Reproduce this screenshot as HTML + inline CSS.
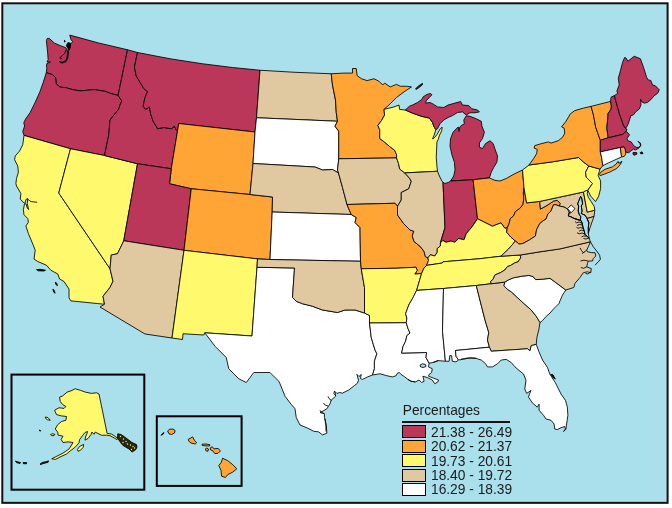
<!DOCTYPE html>
<html><head><meta charset="utf-8"><title>Percentages by state</title>
<style>
html,body{margin:0;padding:0;background:#fff;}
body{width:672px;height:508px;overflow:hidden;position:relative;font-family:"Liberation Sans",sans-serif;}
svg{position:absolute;left:0;top:0;display:block;}
.st path{stroke:#000;stroke-width:0.85;stroke-linejoin:round;}
.lg{position:absolute;color:#1a1a1a;font-size:13.75px;line-height:14.5px;white-space:nowrap;}
</style></head><body>
<svg width="672" height="508" viewBox="0 0 672 508">
<rect x="2.3" y="3.3" width="665.3" height="499.55" fill="#A9E0EC" stroke="#1a1012" stroke-width="2"/>
<g class="st">
<path id="WA" fill="#BB3759" d="M46.25,72.75 46.9,67.75 46.4,67.2 46.8,63.6 50.4,62 47,62 48.1,59.7 47.7,53 46.8,44.7 46.4,40.5 47.25,38.4 49.3,38.4 54.3,43 61,45.9 65.6,47.6 67,49.5 67.5,52.5 67,57 65.8,60.5 62,62.3 59,61.3 62,63.2 66.3,61.7 68,57 68.5,52 69,49 70.2,46.3 70.6,43.8 72.7,41.75 71,39.7 69.75,35.1 98.75,43 127.5,49.75 118.1,95.4 110,93.25 105,91.25 94,89.6 87.5,90.25 80,90.9 72.5,89.6 66.25,87.75 60,87.1 56.25,84 55.6,77.75 52.5,74.6 46.25,72.75Z"/>
<path id="OR" fill="#BB3759" d="M46.25,72.75 52.5,74.6 55.6,77.75 56.25,84 60,87.1 66.25,87.75 72.5,89.6 80,90.9 87.5,90.25 94,89.6 105,91.25 110,93.25 118.1,95.4 121.9,101 120,105 118.75,109 110,120 108.75,135 104.5,155.5 70.5,148.75 24,135.4 22.75,131.6 24.6,126 23.75,122.75 25.6,119 30,112.75 35,102.75 40,91.5 43.1,82.75 46.25,72.75Z"/>
<path id="CA" fill="#FFF96E" d="M24,135.4 70.5,148.75 58.75,193 110,268.75 113,281.25 110,287.5 103,296.25 104.5,304.25 70.9,300.9 69,297.75 69,289 64,281.5 59.6,279 57.75,274 50.9,270.25 46.5,265.25 37.75,261.5 34,259 35.25,250.25 32.75,244 31.5,241 28.4,233.5 25.9,226 28.4,222.25 27.75,218.5 24,214.75 23.4,209.75 24.6,203.5 20.25,199.1 20.9,193.5 16.5,186 15.9,183.5 16.5,178.5 18.4,172.25 17.75,166 14.6,159.75 15.25,156 19.6,151 22.75,144.75 24,135.4Z"/>
<path id="NV" fill="#FFF96E" d="M70.5,148.75 104.5,155.5 137.5,163.75 123.75,240.75 117.5,253.75 111.25,255 110,268.75 58.75,193 70.5,148.75Z"/>
<path id="ID" fill="#BB3759" d="M127.5,49.75 137.5,52.5 134.4,67.25 136.25,76 140,82.25 143.75,88.5 147.5,91.6 145,97.5 143.1,106.25 145.6,109.4 149.4,106.9 150.6,113.75 153.1,121.25 156.25,126.25 157.5,128.75 163.75,127.5 171.25,128.75 174.4,126.25 176.25,130 177.6,130.5 171.25,168.75 137.5,163.75 104.5,155.5 108.75,135 110,120 118.75,109 120,105 121.9,101 118.1,95.4 127.5,49.75Z"/>
<path id="MT" fill="#BB3759" d="M137.5,52.5 170,58.75 202.5,63.75 232.5,67.5 260,70.25 256.5,117.75 255,132 178.75,123.5 177.6,130.5 176.25,130 174.4,126.25 171.25,128.75 163.75,127.5 157.5,128.75 156.25,126.25 153.1,121.25 150.6,113.75 149.4,106.9 145.6,109.4 143.1,106.25 145,97.5 147.5,91.6 143.75,88.5 140,82.25 136.25,76 134.4,67.25 137.5,52.5Z"/>
<path id="WY" fill="#FFA535" d="M178.75,123.5 255,132 253,163.5 250,194.5 191.25,188.75 169.5,183.75 171.25,168.75 177.6,130.5 178.75,123.5Z"/>
<path id="UT" fill="#BB3759" d="M137.5,163.75 171.25,168.75 169.5,183.75 191.25,188.75 184,250.3 123.75,240.75 137.5,163.75Z"/>
<path id="AZ" fill="#E0C8A0" d="M123.75,240.75 184,250.3 172,338 145,334 100,307 104.5,304.25 103,296.25 110,287.5 113,281.25 110,268.75 111.25,255 117.5,253.75 123.75,240.75Z"/>
<path id="CO" fill="#FFA535" d="M191.25,188.75 250,194.5 272.5,197 272.2,212 270,259.5 257.5,258.9 184,250.3 191.25,188.75Z"/>
<path id="NM" fill="#FFF96E" d="M184,250.3 257.5,258.9 257,267.3 252,336 204.8,332.8 203.75,335 183,333.75 182.5,339.5 172,338 184,250.3Z"/>
<path id="TX" fill="#FFFFFF" d="M257,267.3 294.5,268 292.5,297.5 296.25,301.25 302.5,303.75 312.5,306.25 322.5,310 330,311.25 337.5,312.5 345,310 355,310 364.5,313 369.5,315.5 369.5,323 371.25,337.5 375,350 376.9,353.75 374.4,361.25 374.4,368.75 372.5,375 367.5,376.9 362.5,379.4 360.5,378.5 361.25,374.4 359,376.5 356.9,374.4 358.5,380 357.5,383.1 354.4,385.6 348.75,390 342.5,393.1 339.4,392.5 337,393.5 335,391.5 335.6,396.25 331.25,400 330,403.75 326.9,408.75 323,411 320,412.5 324.4,413.75 324.4,417.5 326.25,425 326.9,433.1 322.5,435 318.75,431.9 313.75,431.25 307.5,428.1 300,425 296.25,417.5 295,408.75 291.25,404.4 285,396.25 280,383.75 278.75,381.25 270,372.5 253.75,372.5 246.25,382.5 238.75,378.75 228.75,368.75 226.25,357.5 215,346.25 204.8,332.8 252,336 257,267.3Z"/>
<path id="ND" fill="#E0C8A0" d="M260,70.25 295,72.3 331.25,73.75 332.5,85 335.5,100 336.25,112.5 337.5,121.25 256.5,117.75 260,70.25Z"/>
<path id="SD" fill="#FFFFFF" d="M256.5,117.75 337.5,121.25 335,126.25 338.75,131.25 338.75,158.75 337.5,170 338.5,173 332.5,169.5 322.5,170 315,167 253,163.5 255,132 256.5,117.75Z"/>
<path id="NE" fill="#E0C8A0" d="M253,163.5 315,167 322.5,170 332.5,169.5 338.5,173 342.5,187.5 347,204.5 348.75,208.75 351.25,214.5 272.2,212 272.5,197 250,194.5 253,163.5Z"/>
<path id="KS" fill="#FFFFFF" d="M272.2,212 351.25,214.5 356.25,217.5 355,222.5 360,227.5 360.5,261.25 270,259.5 272.2,212Z"/>
<path id="OK" fill="#E0C8A0" d="M257.5,258.9 270,259.5 360.5,261.25 361.25,268.75 364.5,287.5 364.5,313 355,310 345,310 337.5,312.5 330,311.25 322.5,310 312.5,306.25 302.5,303.75 296.25,301.25 292.5,297.5 294.5,268 257,267.3 257.5,258.9Z"/>
<path id="MN" fill="#FFA535" d="M331.25,73.75 344,73.1 352.5,73.1 352.5,68.5 356.25,68.5 357.1,75.6 361.5,78.75 367.1,80.6 374,78.75 379,81.25 382.75,85 384.6,83.1 390.25,86.9 396.5,84.4 400.25,86.25 406.5,86.25 411.5,86.9 404,91.9 396.5,97.5 390.25,103.75 384,109.4 384.6,115 381.6,120.4 377.9,125.4 379.75,129.75 379.75,138.5 384.75,142.25 389.75,146.6 394.75,150.4 396.6,154.75 396.6,157.9 338.75,158.75 338.75,131.25 335,126.25 337.5,121.25 336.25,112.5 335.5,100 332.5,85 331.25,73.75Z"/>
<path id="IA" fill="#E0C8A0" d="M338.75,158.75 396.6,157.9 398.5,163.5 399.75,169.1 404.75,172.9 409.75,178.5 411.25,181.25 408.75,188.75 401.25,192.5 401.25,200 397.5,206.25 395,203.25 347,204.5 342.5,187.5 338.5,173 337.5,170 338.75,158.75Z"/>
<path id="MO" fill="#FFA535" d="M347,204.5 395,203.25 397.5,206.25 397.5,215 403.75,223.75 410,230 413.75,231.25 412.25,236 414.1,241.6 420.4,246.6 424.1,251.6 425.4,256.6 427.9,257.9 428.5,260.4 426.6,265.4 424.1,267.9 421.6,273.5 414.75,274.1 417.25,270.4 416,267.25 396,268.25 361.25,268.75 360.5,261.25 360,227.5 355,222.5 356.25,217.5 351.25,214.5 348.75,208.75 347,204.5Z"/>
<path id="AR" fill="#FFF96E" d="M361.25,268.75 396,268.25 416,267.25 417.25,270.4 414.75,274.1 421.6,273.5 419.75,279.75 417.9,286 416.6,290.4 413.1,297.5 408.75,305 405.6,313.75 406.9,318.1 406.25,322.75 369.5,323 369.5,315.5 364.5,313 364.5,287.5 361.25,268.75Z"/>
<path id="LA" fill="#FFFFFF" d="M369.5,323 406.25,322.75 408.1,328.75 410,333.1 406.9,335.6 405.6,341.25 403.1,346.25 401.6,353.1 426.6,352.5 426,357.5 429.1,363.1 428.5,366.9 432.25,368.75 431.6,372.5 429.1,374.4 428.5,376.25 433.5,378.1 438.5,380 437.9,381.9 434.75,383.75 432.25,380 427.25,377.5 422.9,376.25 424.1,381.25 421.6,382.5 419.1,380 415.4,381.9 411,381.25 407.9,379.4 404.75,376.9 401,374.4 399.5,372.6 397.3,373.2 396.25,375.6 392.5,376.9 386.25,375.6 380,373.75 372.5,375 374.4,368.75 374.4,361.25 376.9,353.75 375,350 371.25,337.5 369.5,323Z"/>
<path id="WI" fill="#FFF96E" d="M437.5,171.25 436.9,166 436.25,157.25 436.9,142.25 438.3,139.2 439.6,135 441.7,130.8 442.1,127.1 440,129.2 436.7,135 433.3,138.75 432.5,138.75 434.2,135 435.8,129.6 433.75,126.25 432.5,122.5 429.4,118.1 421.25,116.25 412.5,113.1 405.25,110 399.6,109.4 399,105 394,106.9 384,109.4 384.6,115 381.6,120.4 377.9,125.4 379.75,129.75 379.75,138.5 384.75,142.25 389.75,146.6 394.75,150.4 396.6,154.75 396.6,157.9 398.5,163.5 399.75,169.1 404.75,172.9 437.5,171.25Z"/>
<path id="IL" fill="#E0C8A0" d="M404.75,172.9 437.5,171.25 439.4,176 441.9,181 443,182.3 445,227.5 440.4,242.9 440.4,246 437.25,248.5 437.25,252.25 434.75,256 430.4,254.75 427.9,257.9 425.4,256.6 424.1,251.6 420.4,246.6 414.1,241.6 412.25,236 413.75,231.25 410,230 403.75,223.75 397.5,215 397.5,206.25 401.25,200 401.25,192.5 408.75,188.75 411.25,181.25 409.75,178.5 404.75,172.9Z"/>
<path id="MIu" fill="#BB3759" d="M405.25,110 409.4,106.25 412.5,105 417.5,102.5 421.9,99.4 423.1,96.9 426.9,94.4 430.6,93.5 431.9,94.75 429.4,97.5 426.25,100.6 425.6,103.1 430,102.5 433.75,104.4 437.5,106.9 443.75,107.5 448.1,105 455,103.1 460.6,101.5 462.5,105 468.75,105.6 471.9,108.75 477.5,110 479.4,111.9 475,112.75 470,112.75 466.25,115 462.5,111.9 457.5,112.5 452.5,115.6 448.1,117.5 443.75,120 440,123.75 437.5,128.75 435.8,129.6 433.75,126.25 432.5,122.5 429.4,118.1 421.25,116.25 412.5,113.1 405.25,110Z"/>
<path id="MIl" fill="#BB3759" d="M450.6,181 453.75,176 455,169.75 454.4,162.25 451.9,154.75 450,146 450.6,138.5 453.1,132.25 456.25,128.75 458.3,127 459,131.5 459.8,127 461.25,125.6 464.4,123.75 463.75,120 466.25,115.8 470,116.25 476.25,118.75 481.25,121.25 481.9,126 484.4,132.25 482.5,138.5 479.4,142.9 479.4,147.25 482.5,148.5 485.6,143.5 490,140.75 493.1,143.5 495,149.1 497.5,156 496.9,162.25 493.75,167.25 491.25,172.25 489.4,177.9 473.1,179.75 450.6,181Z"/>
<path id="IN" fill="#BB3759" d="M443,182.3 445,183.5 448.75,182.25 450.6,181 473.1,179.75 477.5,218.75 472.5,226.25 466.25,233.75 465.4,236 464.1,239.75 458.5,238.5 454.75,242.25 451,241 446,242.25 442.9,240.4 440.4,242.9 445,227.5 443,182.3Z"/>
<path id="OH" fill="#FFA535" d="M473.1,179.75 489.4,177.9 495,180.4 500,181 506.25,178.5 514,174.1 522.5,170 524,188 523.3,193 523.8,198.5 522.9,204.75 519.75,208.5 515.4,211.6 513.5,216 510.4,218.5 509.1,223.5 507.25,227.9 504.75,228.2 501,222.9 496,224.75 492.5,226.25 485,222.5 477.5,218.75 473.1,179.75Z"/>
<path id="KY" fill="#FFF96E" d="M440.4,242.9 442.9,240.4 446,242.25 451,241 454.75,242.25 458.5,238.5 464.1,239.75 465.4,236 466.25,233.75 472.5,226.25 477.5,218.75 485,222.5 492.5,226.25 496,224.75 501,222.9 504.75,228.2 507.25,227.9 506.6,232.25 511,237.25 515.4,241 512.25,244.75 508.5,249 504,253.3 500.7,256.25 480,258.7 443,261.8 442.3,263 426.6,265.4 428.5,260.4 427.9,257.9 430.4,254.75 434.75,256 437.25,252.25 437.25,248.5 440.4,246 440.4,242.9Z"/>
<path id="TN" fill="#FFF96E" d="M426.6,265.4 442.3,263 443,261.8 480,258.7 500.7,256.25 520.25,255 520.7,257.9 518.2,261.7 514.8,262.9 510.7,265.4 507.3,266.7 504.8,270 500.7,272.5 494.8,275 493.2,279.2 490.7,281.25 491,283.75 476.25,285.5 443.5,288.5 416.6,290.4 417.9,286 419.75,279.75 421.6,273.5 424.1,267.9 426.6,265.4Z"/>
<path id="MS" fill="#FFFFFF" d="M416.6,290.4 443.5,288.5 442.5,331.25 445.4,361.25 438.5,360.6 433.5,362.5 429.1,363.1 426,357.5 426.6,352.5 401.6,353.1 403.1,346.25 405.6,341.25 406.9,335.6 410,333.1 408.1,328.75 406.25,322.75 406.9,318.1 405.6,313.75 408.75,305 413.1,297.5 416.6,290.4Z"/>
<path id="AL" fill="#FFFFFF" d="M443.5,288.5 476.25,285.5 485,320 488.75,332.5 487.5,340 489.4,347.2 455.5,350.5 456,356.25 458.5,360 456,361.9 452.25,361.25 451.6,355.6 449.75,355.6 449.1,361.25 445.4,361.25 442.5,331.25 443.5,288.5Z"/>
<path id="GA" fill="#E0C8A0" d="M476.25,285.5 491,283.75 504.8,282.1 504,285.8 507.3,289.2 511.5,292 520,300 531.25,310 536.25,316.25 540,322.5 538.75,330 536.9,337.5 536.25,344.4 531.25,345.6 530,350.8 527.5,348.75 491.25,351.25 489.4,347.2 487.5,340 488.75,332.5 485,320 476.25,285.5Z"/>
<path id="FL" fill="#FFFFFF" d="M455.5,350.5 489.4,347.2 491.25,351.25 527.5,348.75 530,350.8 531.25,345.6 536.25,344.4 538.75,351.25 542.5,360 547.5,367.5 549.75,374 555.4,382.75 561,394 565.4,400.25 567.25,406.5 567.9,415.25 566.6,424 565.9,429.3 563.5,431.5 565.4,429 564.75,426.5 561,427.75 557.25,429.6 554.75,429 554.1,424 551,420.25 546,419 543.5,415.25 539.1,410.25 539.1,404.2 537.25,407.1 532.25,402.75 528.5,397.1 529.5,394 531,390.5 526.6,393.4 524.75,389 526,380.25 523.5,374 520,371.25 515,366.9 511.25,362.5 506.25,359.4 501.25,360 497.5,363.75 492.5,366.9 487.5,366.9 485.6,363.75 481.25,360 475,358.1 468.75,358.1 462.5,359.4 458.5,360 456,356.25 455.5,350.5Z"/>
<path id="SC" fill="#FFFFFF" d="M504.8,282.1 508.2,280 513.2,277.9 521.5,276.25 529,275.4 533.2,276.7 535.7,279.6 542.5,279.2 550,278.3 565.8,290 562.5,295 560,300.8 559.2,303.3 555.8,306.7 553.3,309.2 550,313.1 546.25,316.25 542.5,320.6 540,322.5 536.25,316.25 531.25,310 520,300 511.5,292 507.3,289.2 504,285.8 504.8,282.1Z"/>
<path id="NC" fill="#E0C8A0" d="M520.25,255 540,251.8 560,248.9 590.4,241.8 588.3,246.8 586.7,250.2 587.5,251.8 591.7,252.7 595,252.7 595.8,256 593.3,258.5 592.5,261 588.3,261 587.5,263.5 586.7,266.8 591.25,268.5 590.8,272.7 587.5,271.8 583.3,272.7 580,277.5 575,283.3 573.75,287.5 565.8,290 550,278.3 542.5,279.2 535.7,279.6 533.2,276.7 529,275.4 521.5,276.25 513.2,277.9 508.2,280 504.8,282.1 491,283.75 490.7,281.25 493.2,279.2 494.8,275 500.7,272.5 504.8,270 507.3,266.7 510.7,265.4 514.8,262.9 518.2,261.7 520.7,257.9 520.25,255Z"/>
<path id="WV" fill="#FFA535" d="M507.25,227.9 509.1,223.5 510.4,218.5 513.5,216 515.4,211.6 519.75,208.5 522.9,204.75 523.8,198.5 523.3,193 524,188 526.6,202.9 539.75,201.4 540.4,209.1 546,206 551,202.9 553.5,201 557.25,200.4 560.4,203.5 559.1,206 556,204.75 553.5,204.75 551,211 547.9,214.1 546,219.1 542.9,221 539.75,223.5 536.6,229.75 535.4,236 529.75,239.75 522.9,243.5 519.1,244.1 515.4,241 511,237.25 506.6,232.25 507.25,227.9Z"/>
<path id="MD" fill="#E0C8A0" d="M539.75,201.4 583.5,192 587.2,212.1 594.8,210.2 594,216.5 587,218.5 581,220 579.2,220.2 574.2,218.5 570.8,216.8 568.3,216 569.2,212.25 567.5,209 564,207 559.1,206 560.4,203.5 557.25,200.4 553.5,201 551,202.9 546,206 540.4,209.1 539.75,201.4Z"/>
<path id="DE" fill="#FFF96E" d="M583.5,192 585.3,190.9 587.9,190.2 587.2,193.9 588.5,197.6 591,201.4 594.2,206.4 594.8,210.2 587.2,212.1 583.5,192Z"/>
<path id="PA" fill="#FFF96E" d="M522.5,170 529,165 552.25,161.9 578.5,157.5 583.75,162.25 588.75,166 585.6,172.25 586.25,177.25 592.5,183.5 587.9,190.2 585.3,190.9 583.5,192 539.75,201.4 526.6,202.9 524,188 522.5,170Z"/>
<path id="NJ" fill="#FFF96E" d="M588.75,166 600,169.1 598.1,175.4 600.6,181 600.6,188.5 598.75,196 595.6,201.6 590.6,196 587.9,190.2 592.5,183.5 586.25,177.25 585.6,172.25 588.75,166Z"/>
<path id="NY" fill="#FFA535" d="M529,165 533.5,158.75 536.6,153.75 537.25,149.4 534.1,148.1 534.75,145.6 541,143.75 548.5,141.9 551,143.1 558.5,140.6 562.9,136.9 564.75,133.1 564.1,128.1 561.6,126.9 566,121.25 570.4,113.75 574.75,110.6 583.5,108.1 591,106.4 593.1,113.5 594.3,119.3 595.6,126.8 600.3,140.25 600.3,151.9 601.6,157.3 602.8,165.7 600,169.1 588.75,166 583.75,162.25 578.5,157.5 552.25,161.9 529,165Z"/>
<path id="VT" fill="#FFA535" d="M591,106.4 610.6,101.4 611.4,106 611,109.3 608.1,113.5 607.7,119.3 606.8,128 608.2,137.75 600.3,140.25 595.6,126.8 594.3,119.3 593.1,113.5 591,106.4Z"/>
<path id="NH" fill="#BB3759" d="M610.6,101.4 611,97.25 614.3,95.6 619.3,113.5 623.5,125.2 625.5,128.5 627,129 626.2,131.1 622.8,134.4 608.2,137.75 606.8,128 607.7,119.3 608.1,113.5 611,109.3 611.4,106 610.6,101.4Z"/>
<path id="ME" fill="#BB3759" d="M614.3,95.6 617.7,93.5 616.9,91 619.2,85 618.3,78.3 620.4,70.8 622.5,62.5 624.6,57.5 626,58 627.9,61.25 634.2,56.25 640.4,58.75 643.3,66.7 646.7,77.5 648.3,80 650.8,80.4 652.5,85 655.4,85.8 659.3,89.8 657.7,93.2 654.3,95.7 651,99.4 647.7,102.3 644.3,103.2 641.8,101.9 640.6,99.4 641,104.8 639.3,109 636,111.5 633.5,114.8 631,115.7 629.75,119 628.5,123.2 627.25,126 625.5,128.5 623.5,125.2 619.3,113.5 614.3,95.6Z"/>
<path id="MA" fill="#BB3759" d="M600.3,140.25 608.2,137.75 622.8,134.4 626.2,131.1 629.5,134.8 627,138.6 627.8,140.7 631.2,141.9 633.7,145.7 636.2,147.3 638.7,147.4 641,145.6 640.2,142.9 637.8,141.5 639.8,142.6 640.4,145.5 638.6,148.4 636,149.5 635.3,150.25 633.7,149 631.2,150.7 628.7,152.75 626.2,152.3 625.3,149.8 624.1,146.9 620.3,147.5 600.3,151.9 600.3,140.25Z"/>
<path id="CT" fill="#FFFFFF" d="M600.3,151.9 620.3,147.5 621.6,156.9 617,159 608.7,162.75 602.8,165.7 601.6,157.3 600.3,151.9Z"/>
<path id="RI" fill="#FFA535" d="M620.3,147.5 624.1,146.9 625.3,149.8 625.75,154 624.1,156.5 621.6,156.9 620.3,147.5Z"/>
<path id="VA" fill="#E0C8A0" d="M515.4,241 519.1,244.1 522.9,243.5 529.75,239.75 535.4,236 536.6,229.75 539.75,223.5 542.9,221 546,219.1 547.9,214.1 551,211 553.5,204.75 556,204.75 559.1,206 564,207 567.5,209 569.2,212.25 568.3,216 570.8,216.8 574.2,218.5 579.2,220.2 581,220 582.1,222.7 582.9,226.8 584.2,231 585,234.3 587.5,236.8 589.2,238.1 590.4,241.8 560,248.9 540,251.8 520.25,255 500.7,256.25 504,253.3 508.5,249 512.25,244.75 515.4,241Z"/>
<path id="VAe" fill="#E0C8A0" d="M587,218.5 594,216.5 592.1,221.8 590,227.7 588.3,233.5 588.3,227.7 588.75,222.7 587,218.5Z"/>
<rect x="11.5" y="374.6" width="132.8" height="115.1" fill="none" stroke="#000" stroke-width="2"/>
<rect x="156.8" y="416.3" width="84.8" height="69.6" fill="none" stroke="#000" stroke-width="2"/>
<path fill="#FFF96E" d="M59.6,397.1 62.75,395.9 67.1,392.1 70.9,390.9 75.25,388.75 80.25,390.25 85.25,392.1 91.5,393.4 96.5,392.75 99,394 107.1,433.4 111.5,434 115.25,436.5 117.75,438.4 117,439.6 113,437.2 110,435.7 106.5,435.2 101.5,435.25 97.75,433.4 95.25,432.1 94,434.3 92,432 91,434.5 88,438.5 85,440.2 85.5,437 87,433.5 87.5,431.5 85,432.5 82.75,435.25 79.6,439.6 79,442.75 75.25,447.1 70.25,450.9 66.5,454 60,457 55.5,459.4 51.75,458.75 58,455.6 63,453.1 69.25,448.75 73,442.5 68,441.9 63,442.5 61.1,439.4 63,436.25 58,435 57.75,432.1 55.25,429 57.75,424.6 61.5,421.5 65.9,420.25 66.5,416.5 61.5,415.9 56.5,414.6 54.6,410.25 59,407.75 64,408.4 65.9,406.5 62.75,404.6 60.25,401.5Z"/>
<path fill="#2a260c" stroke-width="1.2" d="M117.75,433.8 121,434.5 124,436.5 128,439.5 132,442.5 136.5,444.6 137,447 135.9,449.5 132.1,452.1 129,449 125.5,447 122.75,445.25 120.5,442.5 119,440.25 117.5,438.4Z"/>
<circle cx="120.5" cy="436.5" r="0.7" fill="#FFF96E" stroke="none"/>
<circle cx="123.5" cy="439" r="0.7" fill="#FFF96E" stroke="none"/>
<circle cx="126" cy="441.5" r="0.7" fill="#FFF96E" stroke="none"/>
<circle cx="127.5" cy="444" r="0.7" fill="#FFF96E" stroke="none"/>
<circle cx="130.5" cy="445" r="0.7" fill="#FFF96E" stroke="none"/>
<circle cx="133" cy="446.5" r="0.7" fill="#FFF96E" stroke="none"/>
<circle cx="134.5" cy="448" r="0.7" fill="#FFF96E" stroke="none"/>
<circle cx="131.5" cy="449.5" r="0.7" fill="#FFF96E" stroke="none"/>
<circle cx="123" cy="442.5" r="0.7" fill="#FFF96E" stroke="none"/>
<path fill="#FFF96E" d="M77.4,449.5 79.5,446.5 83.6,444.4 83.2,447.5 80,450.5 78,451.25Z"/>
<path fill="#FFF96E" stroke-width="1.1" d="M45.25,417 48,417.6 50.25,420.25 47.5,419.8 45.5,418.3Z"/>
<path fill="#FFF96E" stroke-width="1" d="M50.5,434.6 52.5,433.75 54.9,434.4 54,435.6 51.5,435.6Z"/>
<path fill="#000" d="M39.3,430 40.6,430.5 40.2,431.3Z"/>
<path fill="#2a260c" stroke-width="1" d="M40,464.2 42,462.6 44.25,461.9 46,461.8 48.4,460.8 48.2,462.2 45.5,463 43,463.6 41,464.5Z"/>
<path fill="#000" d="M23,462.5 26.7,462.6 26.5,463.8 23.5,463.7Z"/>
<path fill="#000" d="M15.5,461 17.5,461.8 20.5,462.5 20,463.5 16.5,462.6Z"/>
<path fill="#000" d="M161,435.3 162.5,433.5 164,432.5 163,434.3Z"/>
<path fill="#FFA535" d="M167.6,431 169.5,429.3 173,429 175.1,430.5 174.5,433 171.5,434.5 169,433.8Z"/>
<path fill="#FFA535" d="M188.2,439.4 192.7,436.9 194.3,440.2 196.7,442.7 195.1,444 191,443 188.9,441.3Z"/>
<path fill="#FFA535" d="M202,444.2 206,444 209.8,444.6 209.5,446 205,445.8 202.3,445.5Z"/>
<path fill="#FFA535" d="M205.4,449 206.5,447.9 208.5,449 208,451.2 206.2,451Z"/>
<path fill="#FFA535" d="M210.2,447.9 212.3,446.7 214,448.9 218,448.4 220.5,450.8 218,453.3 214.8,453.6 212.8,450.8 210.7,450Z"/>
<path fill="#FFA535" d="M222.6,458.2 227.8,460.7 232.8,464.7 236.8,468.8 232.8,472.1 227.8,474.6 225.4,477.5 221.6,476.2 221,470.5 218.8,465.6 221.3,462.3Z"/>
<path fill="#FFA535" d="M599.4,174.5 600.3,172.6 605,169.3 612.5,166.8 616,164.2 618.1,161.4 618.8,163.3 622,161.4 619.8,165.2 616.6,168.6 610.3,171.8 604,174.3 600,175.6Z"/>
<path fill="#7a2038" stroke-width="1" d="M633,152.6 636.5,152.4 637,154 634.5,155.2 633,154.4Z"/>
<path fill="#000" stroke-width="0.5" d="M640.3,152.6 642,151.8 643,153.6 640.8,153.8Z"/>
<path fill="#5a1a2a" stroke-width="0.9" d="M415.5,88.8 418.5,86 422.5,83.3 422.2,85 419,87.6 416.3,89.4Z"/>
<path fill="#000" stroke-width="0.4" d="M36.5,269.6 40,269.3 45.5,270.2 44,271 38,270.8Z"/>
<path fill="#000" stroke-width="0.4" d="M55.3,282.3 56.6,283 57.5,285.6 56,284.8Z"/>
<path fill="#000" stroke-width="0.4" d="M52.8,289.2 54,290 55.2,293.2 53.8,292.3Z"/>
<path fill="#000" stroke-width="0.5" d="M68,42.5 70.6,43.3 70.4,47.3 69,50 67.3,47.5 66.3,45.5Z"/>
<path fill="none" stroke-width="1.1" d="M66.3,49.5 64.5,53.5 59.8,57.8 62.3,59"/>
<path fill="#000" stroke-width="0.6" d="M64.5,40.2 65.2,41.6 64.6,42.2Z"/>
<path fill="none" stroke-width="0.7" stroke="#A9E0EC" d="M67.8,49.5 68,52.5 67.5,57 66,61 62,62.8 59.5,61.8"/>
<path fill="#A9E0EC" stroke-width="0.8" d="M25.9,199.5 27.75,198.5 27.3,203.5 28.6,209.5 27.3,208 26,204 24.8,203.3Z"/>
<path fill="none" stroke-width="1.6" d="M27.75,199.3 30.9,201.6 37.1,202.25"/>
<path fill="none" stroke-width="1" d="M324.4,413.75 321,412 320,410.3"/>
<path fill="none" stroke-width="1" d="M328,406 325,405 323.5,403"/>
<path fill="none" stroke-width="1" d="M331.5,400.5 329,398.5 328,396.3"/>
<path fill="none" stroke-width="1" d="M336,396 333.8,393.5 334.5,391"/>
<path fill="none" stroke-width="0.7" stroke="#A9E0EC" d="M325,418.5 325.8,425 326,431.5"/>
<path fill="#000" stroke-width="0.5" d="M550.8,374.3 553,374.8 555.3,379 553.3,378Z"/>
<path fill="none" stroke-width="1.9" d="M407.9,379.4 411,381.25 415.4,381.9"/>
<path fill="none" stroke-width="1.7" d="M461,359.2 466,358.3 470,357.8 476,358.3"/>
<path fill="none" stroke-width="1.5" d="M433,362.3 438.5,360.4"/>
<path fill="#FFFFFF" stroke-width="0.8" d="M571.2,204.9 575,208.7 571.2,212.7 567.5,208.7Z"/>
<path fill="#A9E0EC" stroke-width="0" stroke="none" d="M580.6,196.4 578.8,200.8 577.6,203.9 578.6,206 578.2,211 579.2,214.3 580.8,216.8 580.4,219.75 582.1,222.7 582.9,226.8 584.2,231 585,234.3 587.5,236.8 589.2,238.1 588.3,233.5 588.3,227.7 588.75,222.7 586.7,217.7 585,215.2 581.25,213.5 582.1,211 581.25,206 582.6,203.9 581.6,197.6Z"/>
<path fill="none" stroke-width="0.9" d="M580.6,196.4 578.8,200.8 577.6,203.9 578.6,206 578.2,211 579.2,214.3 580.8,216.8 580.4,219.75 582.1,222.7 582.9,226.8 584.2,231 585,234.3 587.5,236.8 589.2,238.1"/>
<path fill="none" stroke-width="0.9" d="M588.3,233.5 588.3,227.7 588.75,222.7 586.7,217.7 585,215.2 581.25,213.5 582.1,211 581.25,206 582.6,203.9 581.6,197.6 580.3,196.4"/>
<path fill="none" stroke-width="1.3" d="M571,213 569.2,212.5 568.3,216 570.8,216.8 574.2,218.5 579.2,220.2 580.4,219.75"/>
<path fill="none" stroke-width="0.7" stroke="#A9E0EC" d="M574.5,218.4 579.5,220"/>
<path fill="none" stroke-width="1.35" d="M582.1,223.2 579,222 576.5,222.8 575,221.5"/>
<path fill="none" stroke-width="1.35" d="M582.5,225 579.5,224.5 577,225.5"/>
<path fill="none" stroke-width="1.35" d="M583.3,228.5 580.5,227.5 578,228.3 576.5,227.3"/>
<path fill="none" stroke-width="1.35" d="M584,230.5 581,230.2 579,231.2"/>
<path fill="none" stroke-width="1.35" d="M585,234 582,233 579.5,233.8 577,232.8"/>
<path fill="none" stroke-width="1.35" d="M586.5,236.2 583.5,236 581.5,237"/>
<path fill="none" stroke-width="1.35" d="M589,238 586,239 583.5,238.5"/>
<path fill="none" stroke-width="1.1" d="M590.4,241.8 593.3,246.8 596.7,251 599.6,255.2 600.4,259.3 598.3,261.8 595,265.2"/>
<path fill="none" stroke-width="1" d="M586.7,250.2 583.3,252.7 581.5,250.5 580,247.8"/>
<path fill="none" stroke-width="1" d="M584.5,252 582,253.5"/>
<path fill="none" stroke-width="1" d="M588,261 584,260.2 580.4,261"/>
<path fill="none" stroke-width="1" d="M586.7,266.8 583.5,268.3 580.8,267.5"/>
<path fill="none" stroke-width="1" d="M590.5,272 588,274 585.5,273.5"/>
<path fill="#A9E0EC" stroke-width="0.9" d="M420,365 422.5,363.8 425.5,364.5 426,366.5 423,367.5 420.5,366.8Z"/>
</g>
</svg>
<div class="lg" style="left:402.8px;top:403.6px;">Percentages</div>
<div style="position:absolute;left:402px;top:420.9px;width:108px;height:2px;background:#1a1012;"></div>
<div style="position:absolute;left:402.3px;top:425.3px;width:22px;height:11px;background:#BB3759;border:1px solid #000;"></div>
<div class="lg" style="left:431px;top:425.8px;">21.38 - 26.49</div>
<div style="position:absolute;left:402.3px;top:439.7px;width:22px;height:11px;background:#FFA535;border:1px solid #000;"></div>
<div class="lg" style="left:431px;top:440.2px;">20.62 - 21.37</div>
<div style="position:absolute;left:402.3px;top:454.1px;width:22px;height:11px;background:#FFF96E;border:1px solid #000;"></div>
<div class="lg" style="left:431px;top:454.6px;">19.73 - 20.61</div>
<div style="position:absolute;left:402.3px;top:468.5px;width:22px;height:11px;background:#E0C8A0;border:1px solid #000;"></div>
<div class="lg" style="left:431px;top:469px;">18.40 - 19.72</div>
<div style="position:absolute;left:402.3px;top:482.9px;width:22px;height:11px;background:#FFFFFF;border:1px solid #000;"></div>
<div class="lg" style="left:431px;top:483.4px;">16.29 - 18.39</div>

</body></html>
